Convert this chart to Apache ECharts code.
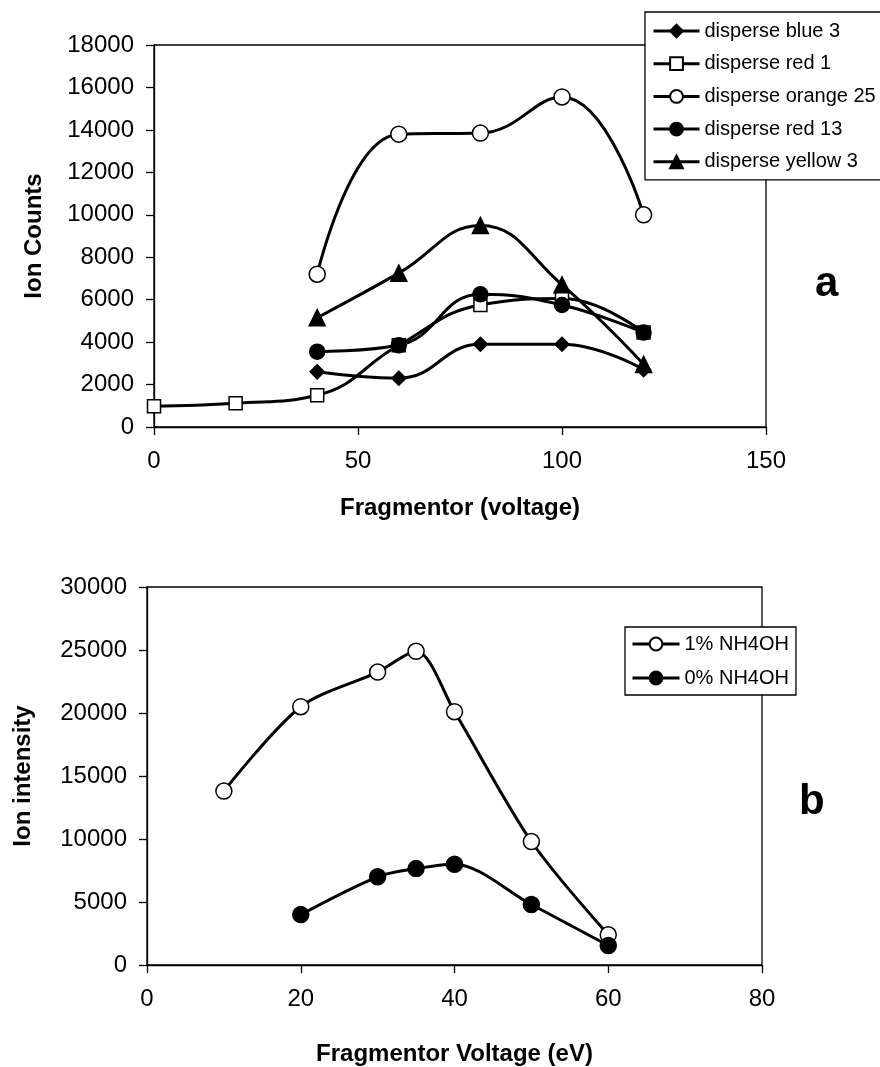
<!DOCTYPE html>
<html>
<head>
<meta charset="utf-8">
<script src="https://cdn.jsdelivr.net/npm/echarts@6/dist/echarts.min.js"></script>
<style>
  html, body { margin: 0; padding: 0; background: #fff; }
  #chart { width: 880px; height: 1067px; }
</style>
</head>
<body>
<div id="chart"></div>
<script>
// chart a: fragmentor voltage vs ion counts
const voltA = [0, 20, 40, 60, 80, 100, 120];
const blue3 = [null, null, 2600, 2300, 3900, 3900, 2700];
const red1 = [980, 1120, 1500, 3850, 5750, 6050, 4450];
const orange25 = [null, null, 7200, 13800, 13850, 15550, 10000];
const red13 = [null, null, 3550, 3850, 6250, 5750, 4450];
const yellow3 = [null, null, 5150, 7250, 9500, 6700, 2950];

// chart b: fragmentor voltage (eV) vs ion intensity
const voltB1 = [10, 20, 30, 35, 40, 50, 60];
const nh4oh1 = [13800, 20500, 23250, 24900, 20100, 9800, 2400];
const voltB0 = [20, 30, 35, 40, 50, 60];
const nh4oh0 = [4000, 7000, 7650, 8000, 4800, 1550];

const FONT = "Liberation Sans, Arial, sans-serif";

function pairs(xs, ys) {
  let out = [];
  for (let i = 0; i < xs.length; i++) {
    if (ys[i] !== null) out.push([xs[i], ys[i]]);
  }
  return out;
}

function lineSeries(name, data, grid, symbol, size, fill, smooth) {
  return {
    name: name,
    type: "line",
    xAxisIndex: grid,
    yAxisIndex: grid,
    data: data,
    smooth: smooth,
    symbol: symbol,
    symbolSize: size,
    showAllSymbol: true,
    lineStyle: { color: "#000", width: 3 },
    itemStyle: { color: fill, borderColor: "#000", borderWidth: 1.5 },
    emphasis: { disabled: true },
    z: 3
  };
}

function valueAxis(grid, min, max, interval, name, gap, isX) {
  return {
    type: "value",
    gridIndex: grid,
    min: min,
    max: max,
    interval: interval,
    name: name,
    nameLocation: "middle",
    nameGap: gap,
    nameTextStyle: { fontFamily: FONT, fontSize: 24, fontWeight: "bold", color: "#000" },
    axisLine: { show: true, onZero: false, lineStyle: { color: "#000", width: 1.3 } },
    axisTick: { show: true, inside: false, length: 8, lineStyle: { color: "#000", width: 1.3 } },
    axisLabel: {
      fontFamily: FONT, fontSize: 24, color: "#000", margin: isX ? 22 : 20,
      formatter: v => String(v)
    },
    splitLine: { show: false }
  };
}

function legendBox(items, left, top, padding, itemWidth, gap) {
  return {
    data: items,
    orient: "vertical",
    left: left,
    top: top,
    padding: padding,
    itemWidth: itemWidth,
    itemHeight: 16,
    itemGap: gap,
    backgroundColor: "#fff",
    borderColor: "#000",
    borderWidth: 1.3,
    borderRadius: 0,
    lineStyle: { width: 3 },
    textStyle: { fontFamily: FONT, fontSize: 20, color: "#000" },
    selectedMode: false
  };
}

const chart = echarts.init(document.getElementById("chart"));

const option = {
  backgroundColor: "#fff",
  animation: false,
  title: [
    { text: "a", left: 810, top: 258, textStyle: { fontFamily: FONT, fontSize: 42, fontWeight: "bold", color: "#000" } },
    { text: "b", left: 794, top: 776, textStyle: { fontFamily: FONT, fontSize: 42, fontWeight: "bold", color: "#000" } }
  ],
  grid: [
    { left: 154, top: 45, width: 612, height: 382, show: true, borderColor: "#000", borderWidth: 1.3, backgroundColor: "transparent" },
    { left: 147, top: 587, width: 615, height: 380, show: true, borderColor: "#000", borderWidth: 1.3, backgroundColor: "transparent" }
  ],
  xAxis: [
    valueAxis(0, 0, 150, 50, "Fragmentor (voltage)", 69, true),
    valueAxis(1, 0, 80, 20, "Fragmentor Voltage (eV)", 77, true)
  ],
  yAxis: [
    valueAxis(0, 0, 18000, 2000, "Ion Counts", 108, false),
    valueAxis(1, 0, 30000, 5000, "Ion intensity", 112, false)
  ],
  legend: [
    legendBox(["disperse blue 3", "disperse red 1", "disperse orange 25", "disperse red 13", "disperse yellow 3"],
      645, 12, [9, 12, 8, 7], 46, 12.7),
    legendBox(["1% NH4OH", "0% NH4OH"], 625, 627, [7, 7, 7, 6], 47, 14)
  ],
  series: [
    lineSeries("disperse blue 3", pairs(voltA, blue3), 0, "diamond", 14, "#000", 0.45),
    lineSeries("disperse red 1", pairs(voltA, red1), 0, "rect", 13, "#fff", 0.45),
    lineSeries("disperse orange 25", pairs(voltA, orange25), 0, "circle", 16, "#fff", 0.45),
    lineSeries("disperse red 13", pairs(voltA, red13), 0, "circle", 15, "#000", 0.45),
    lineSeries("disperse yellow 3", pairs(voltA, yellow3), 0, "triangle", 16, "#000", 0.45),
    lineSeries("1% NH4OH", pairs(voltB1, nh4oh1), 1, "circle", 16, "#fff", 0.3),
    lineSeries("0% NH4OH", pairs(voltB0, nh4oh0), 1, "circle", 16, "#000", 0.3)
  ]
};

chart.setOption(option);
</script>
</body>
</html>
